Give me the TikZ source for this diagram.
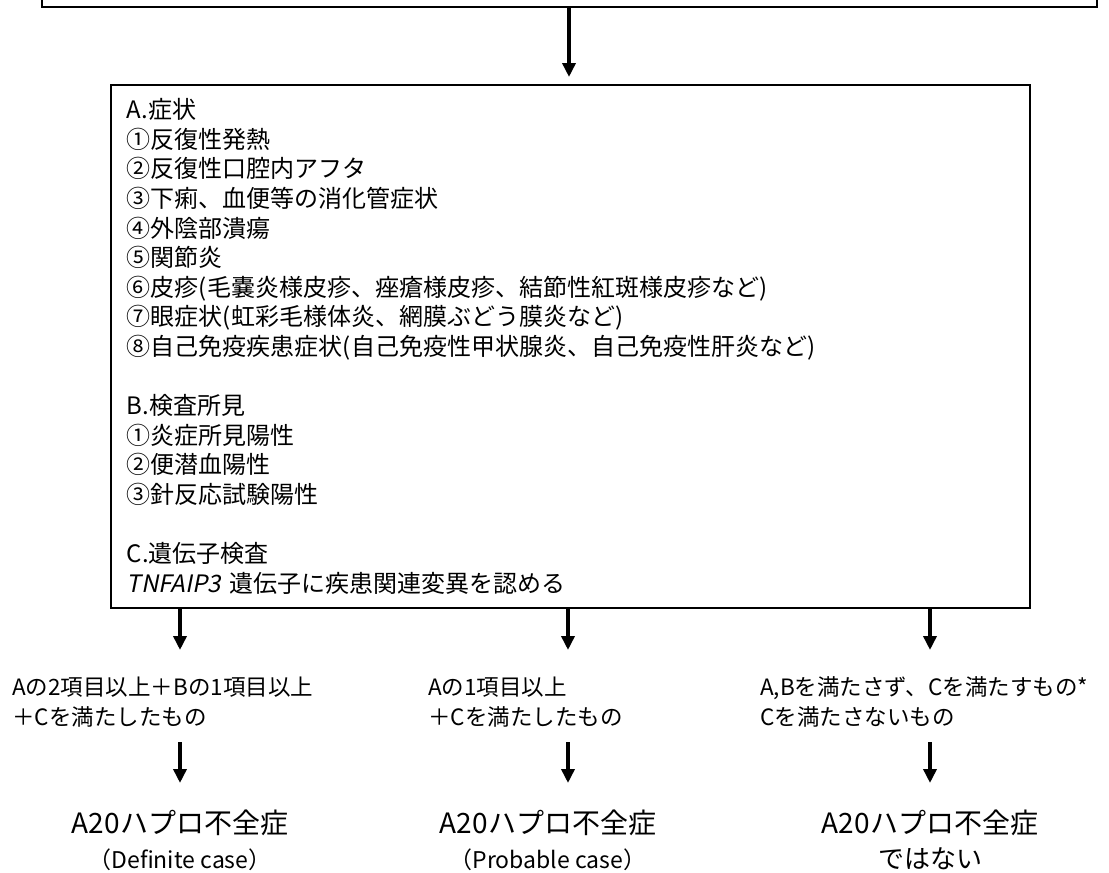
\documentclass[tikz,border=0pt]{standalone}
\usepackage{fontspec}
\setmainfont{Noto Sans CJK JP}
\newfontfamily\slantfont[FakeSlant=0.2]{Noto Sans CJK JP}
\usetikzlibrary{arrows.meta}
\tikzset{
  frame/.style={draw=black, line width=1.8pt, rectangle, fill=white},
  arr/.style={line width=4.5pt, draw=black, -{Triangle[width=13pt,length=14pt]}},
  lab/.style={inner sep=0pt, align=left, anchor=west, font=\fontsize{22.5pt}{30pt}\selectfont},
  res/.style={inner sep=0pt, align=center, font=\fontsize{28pt}{35pt}\selectfont},
}
\begin{document}
\begin{tikzpicture}[x=1pt,y=-1pt]
\useasboundingbox (0,0) rectangle (1109,873);
\clip (0,0) rectangle (1109,873);
% top box (cut off)
\node[frame, minimum width=1055pt, minimum height=80pt, anchor=south west] (top) at (41,8) {};
% main box
\node[frame, anchor=north west, minimum width=919pt, minimum height=523pt,
      text width=887pt, inner xsep=16pt, inner ysep=0pt, align=left,
      font=\fontsize{24pt}{29.6pt}\selectfont] (main) at (110,84) {%
A.症状\\
①反復性発熱\\
②反復性口腔内アフタ\\
③下痢、血便等の消化管症状\\
④外陰部潰瘍\\
⑤関節炎\\
⑥皮疹(毛嚢炎様皮疹、痤瘡様皮疹、結節性紅斑様皮疹など)\\
⑦眼症状(虹彩毛様体炎、網膜ぶどう膜炎など)\\
⑧自己免疫疾患症状(自己免疫性甲状腺炎、自己免疫性肝炎など)\\[29.6pt]
B.検査所見\\
①炎症所見陽性\\
②便潜血陽性\\
③針反応試験陽性\\[29.6pt]
C.遺伝子検査\\
{\slantfont TNFAIP3} 遺伝子に疾患関連変異を認める};
% labels
\node[lab] (l1) at (12,702) {Aの2項目以上＋Bの1項目以上\\＋Cを満たしたもの};
\node[lab] (l2) at (428,702) {Aの1項目以上\\＋Cを満たしたもの};
\node[lab] (l3) at (760,702) {A,Bを満たさず、Cを満たすもの*\\Cを満たさないもの};
% results
\node[res] (r1) at (180,840) {A20ハプロ不全症\\{\fontsize{23pt}{35pt}\selectfont （Definite case）}};
\node[res] (r2) at (548,840) {A20ハプロ不全症\\{\fontsize{23pt}{35pt}\selectfont （Probable case）}};
\node[res] (r3) at (930,840) {A20ハプロ不全症\\{\fontsize{26pt}{35pt}\selectfont ではない}};
% arrow coordinates
\coordinate (t0) at (569,77);
\coordinate (t1) at (180,650);
\coordinate (t2) at (568,650);
\coordinate (t3) at (930,650);
\coordinate (s1) at (180,742);
\coordinate (s2) at (568,742);
\coordinate (s3) at (930,742);
\coordinate (e1) at (180,783);
\coordinate (e2) at (568,783);
\coordinate (e3) at (930,783);
% arrows
\draw[arr] (top.south -| t0) -- (t0);
\draw[arr] (main.south -| t1) -- (t1);
\draw[arr] (main.south -| t2) -- (t2);
\draw[arr] (main.south -| t3) -- (t3);
\draw[arr] (s1) -- (e1);
\draw[arr] (s2) -- (e2);
\draw[arr] (s3) -- (e3);
\end{tikzpicture}
\end{document}
